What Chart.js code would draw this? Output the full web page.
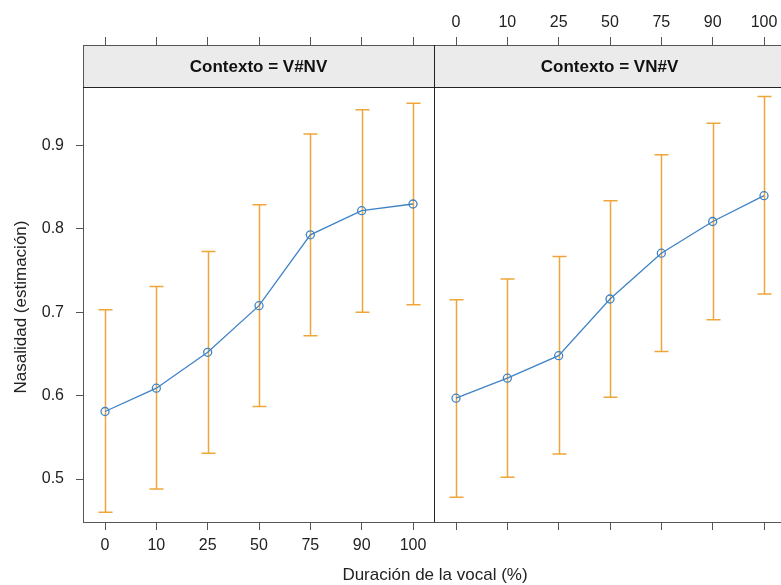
<!DOCTYPE html>
<html>
<head>
<meta charset="utf-8">
<script src="https://cdn.jsdelivr.net/npm/chart.js@4.4.0/dist/chart.umd.min.js"></script>
<style>
  html, body { margin: 0; padding: 0; background: #fff; overflow: hidden; }
  body { width: 781px; height: 585px; position: relative; font-family: "Liberation Sans", Arial, sans-serif; color: #222; }
  #left { position: absolute; left: 0; top: 0; }
  #right { position: absolute; left: 434px; top: 0; }
  .xtitle { position: absolute; left: 0; width: 870px; top: 565px; line-height: 20px; text-align: center; font-size: 17px; }
  .ytitle { position: absolute; left: -129px; top: 297px; width: 300px; line-height: 20px; text-align: center; font-size: 17px; transform: rotate(-90deg); }
</style>
</head>
<body>
<canvas id="left" width="434" height="585"></canvas>
<canvas id="right" width="351" height="585"></canvas>
<div class="xtitle">Duración de la vocal (%)</div>
<div class="ytitle">Nasalidad (estimación)</div>
<script>
// valores
const durations = ['0', '10', '25', '50', '75', '90', '100'];
const contexts = ['V#NV', 'VN#V'];
const fitVNV   = [0.581, 0.609, 0.652, 0.708, 0.793, 0.822, 0.830];
const lowerVNV = [0.460, 0.488, 0.531, 0.587, 0.672, 0.700, 0.709];
const upperVNV = [0.703, 0.731, 0.773, 0.829, 0.914, 0.943, 0.951];
const fitNVV   = [0.597, 0.621, 0.648, 0.716, 0.771, 0.809, 0.840];
const lowerNVV = [0.478, 0.502, 0.530, 0.598, 0.653, 0.691, 0.722];
const upperNVV = [0.715, 0.740, 0.767, 0.834, 0.889, 0.927, 0.959];
const yTicks = [0.5, 0.6, 0.7, 0.8, 0.9];

const lineColor = '#3f83c6';
const ciColor = '#eea63a';
const axisColor = '#555';
const tickFont = { family: '"Liberation Sans", Arial, sans-serif', size: 16 };
const Y_MIN = 0.4484, Y_MAX = 1.0208;
const X_MIN = -0.4286, X_MAX = 6.409;
const STRIP = 42;

function xAxis(position, showLabels, height) {
    return {
        type: 'linear',
        axis: 'x',
        position: position,
        min: X_MIN,
        max: X_MAX,
        afterBuildTicks: function(scale) {
            scale.ticks = durations.map((d, i) => ({ value: i }));
        },
        afterFit: function(scale) { scale.height = height; },
        grid: { drawOnChartArea: false, drawTicks: true, tickLength: 8, color: axisColor },
        border: { display: true, color: axisColor },
        ticks: {
            color: showLabels ? '#222' : 'rgba(0,0,0,0)',
            font: tickFont,
            padding: position === 'top' ? 5 : 6,
            maxRotation: 0,
            autoSkip: false,
            callback: v => durations[v]
        }
    };
}

function panelPlugin(label, lower, upper, isLeft) {
    return {
        id: 'panel',
        beforeDraw(chart) {
            // fondo de la tira, antes de los ejes
            const { ctx, chartArea } = chart;
            ctx.save();
            ctx.fillStyle = '#ebebeb';
            ctx.fillRect(chartArea.left, chartArea.top, chartArea.right - chartArea.left, STRIP);
            ctx.restore();
        },
        beforeDatasetsDraw(chart) {
            const { ctx, chartArea, scales } = chart;
            const w = chartArea.right - chartArea.left;
            ctx.save();
            ctx.strokeStyle = '#222';
            ctx.lineWidth = 1;
            ctx.beginPath();
            ctx.moveTo(chartArea.left, chartArea.top + STRIP + 0.5);
            ctx.lineTo(chartArea.right, chartArea.top + STRIP + 0.5);
            ctx.stroke();
            if (!isLeft) {
                ctx.beginPath();
                ctx.moveTo(chartArea.left + 0.5, chartArea.top);
                ctx.lineTo(chartArea.left + 0.5, chartArea.bottom);
                ctx.stroke();
            }
            ctx.fillStyle = '#111';
            ctx.font = 'bold 17px "Liberation Sans", Arial, sans-serif';
            ctx.textAlign = 'center';
            ctx.textBaseline = 'middle';
            ctx.fillText('Contexto = ' + label, chartArea.left + w / 2, chartArea.top + STRIP / 2 + 1);

            // intervalos de confianza
            ctx.strokeStyle = ciColor;
            ctx.lineWidth = 1.5;
            for (let i = 0; i < lower.length; i++) {
                const x = Math.round(scales.x.getPixelForValue(i)) + 0.5;
                const yl = scales.y.getPixelForValue(lower[i]);
                const yu = scales.y.getPixelForValue(upper[i]);
                ctx.beginPath();
                ctx.moveTo(x, yl);
                ctx.lineTo(x, yu);
                ctx.moveTo(x - 7, yl);
                ctx.lineTo(x + 7, yl);
                ctx.moveTo(x - 7, yu);
                ctx.lineTo(x + 7, yu);
                ctx.stroke();
            }
            ctx.restore();
        }
    };
}

function makeChart(id, label, fit, lower, upper, isLeft) {
    const ctx = document.getElementById(id).getContext('2d');
    return new Chart(ctx, {
        type: 'line',
        data: {
            datasets: [{
                data: fit.map((v, i) => ({ x: i, y: v })),
                borderColor: lineColor,
                borderWidth: 1.3,
                pointRadius: 4,
                pointBorderWidth: 1.3,
                pointBorderColor: lineColor,
                pointBackgroundColor: 'rgba(0,0,0,0)',
                tension: 0,
                fill: false
            }]
        },
        options: {
            responsive: false,
            animation: false,
            devicePixelRatio: 1,
            layout: { padding: 0, autoPadding: false },
            plugins: { legend: { display: false }, tooltip: { enabled: false } },
            scales: {
                x: xAxis('bottom', isLeft, 63),
                xTop: xAxis('top', !isLeft, 45),
                y: {
                    type: 'linear',
                    position: 'left',
                    display: isLeft,
                    min: Y_MIN,
                    max: Y_MAX,
                    afterBuildTicks: function(scale) {
                        scale.ticks = yTicks.map(v => ({ value: v }));
                    },
                    afterFit: function(scale) { scale.width = isLeft ? 83 : 0; },
                    grid: { drawOnChartArea: false, drawTicks: true, tickLength: 7, color: axisColor },
                    border: { display: true, color: axisColor },
                    ticks: {
                        color: '#222',
                        font: tickFont,
                        padding: 12,
                        callback: v => v.toFixed(1)
                    }
                }
            }
        },
        plugins: [panelPlugin(label, lower, upper, isLeft)]
    });
}

makeChart('left', contexts[0], fitVNV, lowerVNV, upperVNV, true);
makeChart('right', contexts[1], fitNVV, lowerNVV, upperNVV, false);
</script>
</body>
</html>
